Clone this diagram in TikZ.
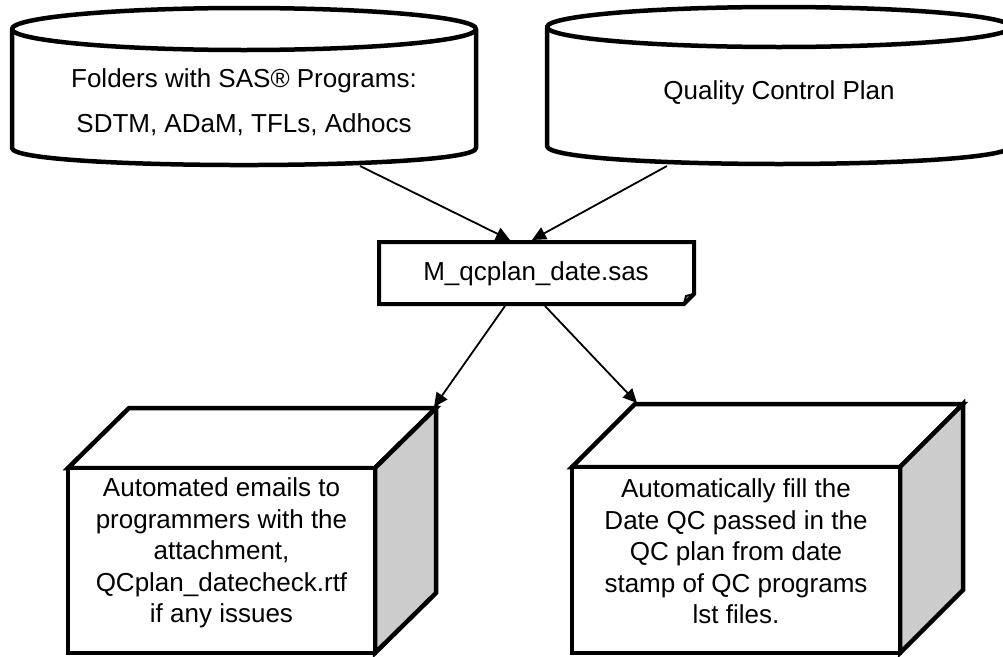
\documentclass[tikz,border=0pt]{standalone}
\usepackage{fontspec}
\setmainfont{Liberation Sans}
\usetikzlibrary{arrows.meta}
\definecolor{sidegray}{HTML}{CCCCCC}
\begin{document}
\begin{tikzpicture}[x=1pt,y=-1pt,
  outline/.style={line width=4.5pt, line join=round, fill=white},
  boxline/.style={line width=4.5pt, line join=miter},
  flow/.style={line width=1.8pt, -{Triangle[length=14pt,width=13pt]}},
  txt/.style={font=\fontsize{26}{31.5}\selectfont, align=center, inner sep=0pt}]
\useasboundingbox (0,0) rectangle (1003,656);
\clip (0,0) rectangle (1003,656);

% --- storage cylinders ---
\filldraw[outline] (12,29) -- (12,148)
  .. controls (12,170.7) and (476,170.7) .. (476,148) -- (476,29);
\filldraw[outline] (244,29) ellipse (232 and 21);
\filldraw[outline] (547,27) -- (547,146)
  .. controls (547,170) and (1011,170) .. (1011,146) -- (1011,27);
\filldraw[outline] (779,27) ellipse (232 and 20);

\node[txt, font=\fontsize{26}{45}\selectfont] (src) at (244,102)
  {Folders with SAS® Programs:\\SDTM, ADaM, TFLs, Adhocs};
\node[txt, anchor=base] (qcp) at (779,99) {Quality Control Plan};

% --- program document ---
\filldraw[boxline, fill=white, line width=4pt]
  (379,242) -- (694,242) -- (694,294) -- (684,304) -- (379,304) -- cycle;
\draw[line width=2pt] (684,304) -- (686,296) -- (694,294);
\node[txt, anchor=base] (prog) at (536,280) {M\_qcplan\_date.sas};

% --- output boxes ---
% left box: front (68,468)-(375,653), depth (61,-60)
\filldraw[boxline, fill=white] (68,468) -- (129,408) -- (436,408) -- (375,468) -- cycle;
\filldraw[boxline, fill=sidegray] (375,468) -- (436,408) -- (436,593) -- (375,653) -- cycle;
\filldraw[boxline, fill=white] (68,468) rectangle (375,653);
\node[txt] (mail) at (221.5,553)
  {Automated emails to\\programmers with the\\attachment,\\QCplan\_datecheck.rtf\\if any issues};

% right box: front (572,467)-(900,653), depth (63,-63)
\filldraw[boxline, fill=white] (572,467) -- (635,404) -- (963,404) -- (900,467) -- cycle;
\filldraw[boxline, fill=sidegray] (900,467) -- (963,404) -- (963,590) -- (900,653) -- cycle;
\filldraw[boxline, fill=white] (572,467) rectangle (900,653);
\node[txt] (fill) at (736,551.5)
  {Automatically fill the\\Date QC passed in the\\QC plan from date\\stamp of QC programs\\lst files.};

% --- connector ends ---
\coordinate (srcout) at (360,166);
\coordinate (qcpout) at (667,166);
\coordinate (progin1) at (510,240);
\coordinate (progin2) at (532,240);
\coordinate (progout1) at (505,306);
\coordinate (progout2) at (545,306);
\coordinate (mailin) at (434,407);
\coordinate (fillin) at (637,403);

\draw[flow] (srcout) -- (progin1);
\draw[flow] (qcpout) -- (progin2);
\draw[flow] (progout1) -- (mailin);
\draw[flow] (progout2) -- (fillin);
\end{tikzpicture}
\end{document}
